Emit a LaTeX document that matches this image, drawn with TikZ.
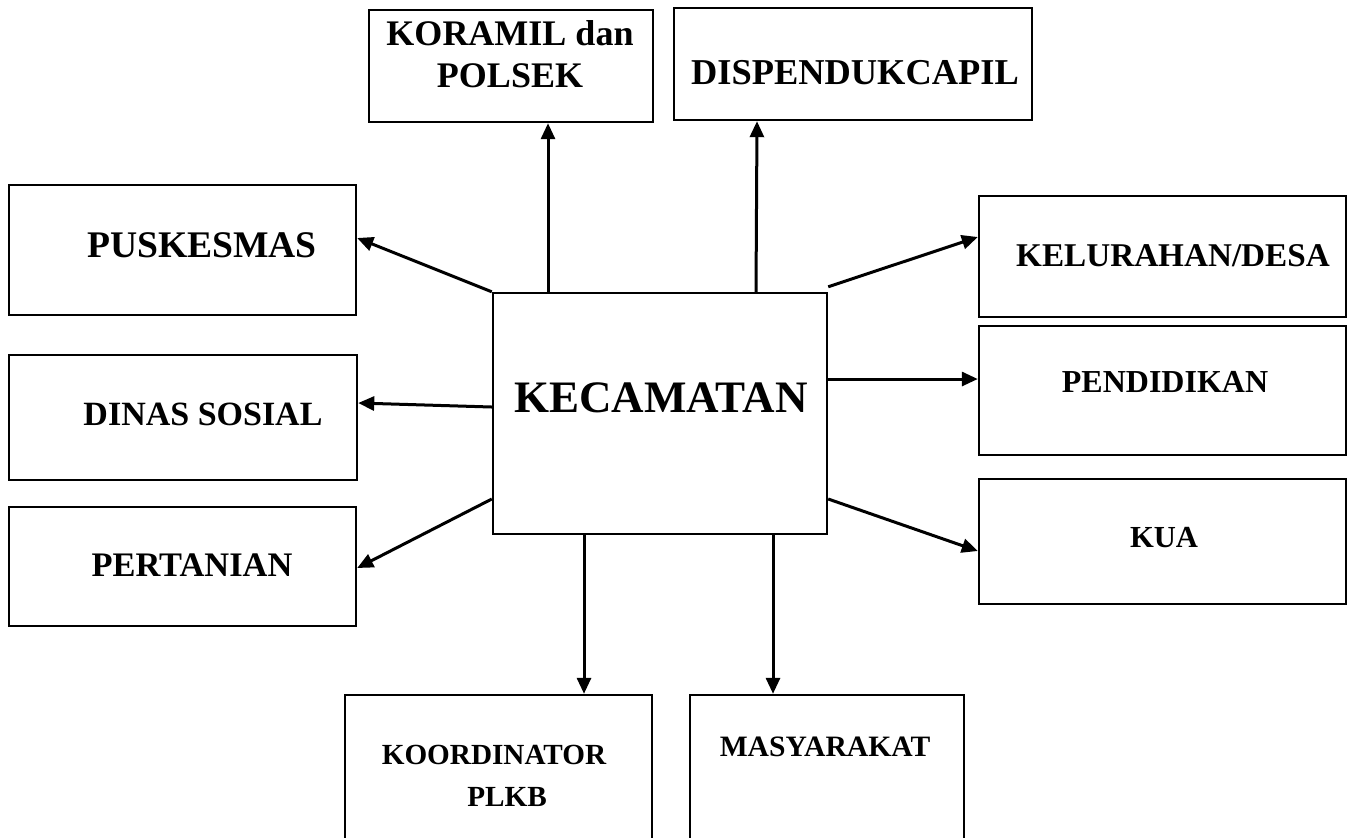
\documentclass[tikz,border=0pt]{standalone}
\usepackage{fontspec}
\setmainfont{Liberation Serif}
\usetikzlibrary{arrows.meta,positioning,calc}
\tikzset{
  box/.style={draw=black,line width=1.2pt,rectangle,inner sep=0pt},
  lbl/.style={font=\bfseries\fontsize{#1}{21}\selectfont,inner sep=0pt,align=center},
  lbl/.default=17,
  arr/.style={-{Triangle[length=8pt,width=7pt]},line width=1.5pt,draw=black},
}
\begin{document}
\begin{tikzpicture}[x=0.5pt,y=-0.5pt]
  \useasboundingbox (0,0) rectangle (1347,837);
  \clip (0,0) rectangle (1347,837);
  % pusat
  \node[box,minimum width=167pt,minimum height=120.5pt] (kec) at (660,413.5) {};
  \node[lbl=22.5] (kecT) at (661,398) {KECAMATAN};
  % atas
  \node[box,minimum width=142pt,minimum height=56pt] (koramil) at (511,66) {};
  \node[lbl=18] (koramilT) at (510,54.5) {KORAMIL dan\\POLSEK};
  \node[box,minimum width=179pt,minimum height=56pt] (disp) at (853,64) {};
  \node[lbl=18.2] (dispT) at (855,72.5) {DISPENDUKCAPIL};
  % kiri
  \node[box,minimum width=173.5pt,minimum height=65pt] (pusk) at (182.5,250) {};
  \node[lbl=18.8] (puskT) at (202,245) {PUSKESMAS};
  \node[box,minimum width=174pt,minimum height=62.5pt] (dinsos) at (183,417.5) {};
  \node[lbl=17] (dinsosT) at (203,414.5) {DINAS SOSIAL};
  \node[box,minimum width=173.5pt,minimum height=59.5pt] (tani) at (182.5,566.5) {};
  \node[lbl=17.2] (taniT) at (192,565) {PERTANIAN};
  % kanan
  \node[box,minimum width=183.5pt,minimum height=60.5pt] (desa) at (1162.5,256.5) {};
  \node[lbl=16.6] (desaT) at (1173,255.5) {KELURAHAN/DESA};
  \node[box,minimum width=183.5pt,minimum height=64.5pt] (didik) at (1162.5,390.5) {};
  \node[lbl=16] (didikT) at (1165,382) {PENDIDIKAN};
  \node[box,minimum width=183.5pt,minimum height=62.5pt] (kua) at (1162.5,541.5) {};
  \node[lbl=15.3] (kuaT) at (1164,537.5) {KUA};
  % bawah
  \node[box,minimum width=153.5pt,minimum height=102.5pt] (plkb) at (498.5,797.5) {};
  \node[lbl=14.6] (plkbT) at (494,776) {KOORDINATOR\\\hspace*{13pt}PLKB};
  \node[box,minimum width=137pt,minimum height=102.5pt] (masy) at (827,797.5) {};
  \node[lbl=14.8] (masyT) at (825,746.5) {MASYARAKAT};
  % panah
  \draw[arr] ([xshift=-56pt]kec.north) -- ([xshift=-56pt]kec.north |- koramil.south);
  \draw[arr] ([xshift=48pt]kec.north) -- ([xshift=-48pt]disp.south);
  \draw[arr] (kec.north west) -- ([yshift=6pt]pusk.east);
  \draw[arr] ([yshift=3.25pt]kec.west) -- ([yshift=7.25pt]dinsos.east);
  \draw[arr] ([yshift=-42.75pt]kec.west) -- ([yshift=-0.75pt]tani.east);
  \draw[arr] ([yshift=2.5pt]kec.north east) -- ([yshift=9.75pt]desa.west);
  \draw[arr] ([yshift=17.25pt]kec.east) -- ([yshift=5.75pt]didik.west);
  \draw[arr] ([yshift=-42.75pt]kec.east) -- ([yshift=-4.75pt]kua.west);
  \draw[arr] ([xshift=-38pt]kec.south) -- ([xshift=-38pt]kec.south |- plkb.north);
  \draw[arr] ([xshift=56.5pt]kec.south) -- ([xshift=56.5pt]kec.south |- masy.north);
\end{tikzpicture}
\end{document}
